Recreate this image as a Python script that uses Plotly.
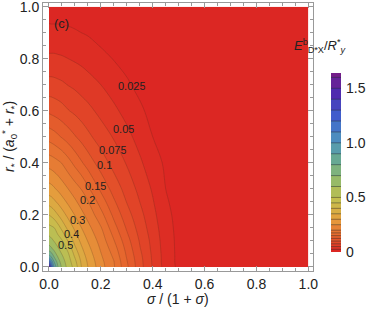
import numpy as np
import plotly.graph_objects as go

# Grid of E^b/R*_y (in thousandths) estimated from the reference contours.
X_NODES = [0, 0.01, 0.02, 0.035, 0.05, 0.075, 0.1, 0.125, 0.15, 0.2, 0.25, 0.3, 0.35,
           0.4, 0.45, 0.5, 0.55, 0.6, 0.7, 1.0]
Y_NODES = [0, 0.02, 0.04, 0.07, 0.1, 0.15, 0.2, 0.25, 0.3, 0.4, 0.5, 0.6, 0.7, 0.8,
           0.85, 0.9, 0.95, 1.0]
E_MILLI = [
    [1600, 1250, 1000, 800, 680, 559, 481, 400, 350, 270, 206, 155, 110, 73, 40, 20, 9, 0, 0, 0],
    [1250, 1050, 900, 750, 650, 544, 466, 392, 343, 265, 202, 152, 109, 72, 39, 19, 9, 0, 0, 0],
    [950, 880, 790, 690, 615, 523, 445, 380, 333, 257, 196, 148, 107, 71, 39, 19, 9, 0, 0, 0],
    [750, 715, 670, 612, 560, 487, 412, 359, 316, 244, 187, 142, 102, 69, 38, 19, 9, 0, 0, 0],
    [645, 622, 595, 552, 514, 444, 383, 338, 298, 230, 177, 135, 98, 67, 37, 19, 9, 0, 0, 0],
    [533, 520, 504, 471, 437, 384, 340, 301, 266, 205, 160, 122, 90, 62, 35, 18, 8, 0, 0, 0],
    [450, 439, 425, 400, 374, 334, 298, 265, 234, 184, 144, 110, 83, 57, 32, 17, 7, 0, 0, 0],
    [380, 372, 360, 341, 321, 289, 259, 231, 204, 164, 129, 99, 75, 52, 28, 16, 6, 0, 0, 0],
    [321, 315, 306, 291, 275, 249, 224, 199, 180, 145, 115, 90, 68, 47, 25, 15, 5, 0, 0, 0],
    [230, 226, 220, 210, 199, 184, 168, 153, 139, 113, 91, 73, 54, 36, 21, 11, 2, 0, 0, 0],
    [166, 163, 160, 154, 148, 138, 127, 117, 106, 88, 73, 57, 41, 25, 16, 7, 0, 0, 0, 0],
    [120, 118, 116, 113, 109, 101, 95, 88, 82, 68, 55, 42, 29, 18, 10, 2, 0, 0, 0, 0],
    [84, 84, 83, 81, 79, 74, 70, 65, 60, 50, 39, 28, 19, 11, 4, 0, 0, 0, 0, 0],
    [55, 55, 55, 54, 53, 50, 47, 44, 40, 32, 24, 18, 11, 4, 0, 0, 0, 0, 0, 0],
    [43, 43, 43, 42, 41, 39, 37, 34, 31, 24, 19, 13, 7, 1, 0, 0, 0, 0, 0, 0],
    [32, 31, 31, 31, 30, 29, 27, 25, 23, 19, 14, 8, 3, 0, 0, 0, 0, 0, 0, 0],
    [22, 22, 22, 22, 22, 21, 20, 19, 17, 13, 9, 4, 0, 0, 0, 0, 0, 0, 0, 0],
    [16, 16, 16, 16, 16, 15, 14, 13, 12, 8, 4, 0, 0, 0, 0, 0, 0, 0, 0, 0],
]

LEVELS = [0.025, 0.05, 0.075, 0.1, 0.125, 0.15, 0.175, 0.2, 0.25, 0.3, 0.35, 0.4, 0.45,
          0.5, 0.6, 0.7, 0.8, 0.9, 1.0, 1.1, 1.2, 1.3, 1.4, 1.5, 1.6]
E_MAX = 1.64
LABELS = ["0.025", "0.05", "0.075", "0.1", "0.15", "0.2", "0.3", "0.4", "0.5"]
LABEL_X = [0.32, 0.287, 0.248, 0.216, 0.178, 0.148, 0.111, 0.085, 0.064]
LABEL_Y = [0.696, 0.53, 0.45, 0.392, 0.313, 0.258, 0.181, 0.128, 0.086]
CB_TICKS = [0, 0.5, 1.0, 1.5]
CB_TICKTEXT = ["0", "0.5", "1.0", "1.5"]
AX_TICKS = [0, 0.2, 0.4, 0.6, 0.8, 1.0]
AX_TICKTEXT = ["0.0", "0.2", "0.4", "0.6", "0.8", "1.0"]

RB = [(0.00, (120, 28, 134)), (0.12, (78, 44, 176)), (0.25, (62, 98, 207)),
      (0.38, (78, 148, 188)), (0.50, (108, 172, 140)), (0.62, (158, 188, 98)),
      (0.72, (200, 190, 76)), (0.82, (230, 158, 60)), (0.91, (230, 102, 46)),
      (1.00, (219, 33, 34))]

def rainbow(e):
    pos = 1 - e / E_MAX
    ps = [s[0] for s in RB]
    rgb = [np.interp(pos, ps, [s[1][i] for s in RB]) for i in range(3)]
    return "rgb(%d,%d,%d)" % tuple(int(round(v)) for v in rgb)

E = np.array(E_MILLI, dtype=float) / 1000.0
N = len(LEVELS)
edges = [0.0] + LEVELS
mids = [0.5 * (edges[k] + edges[k + 1]) for k in range(N)]
band_cols = [rainbow(m) for m in mids]
cs_t = [[0, band_cols[0]]] + [[(k + 0.5) / N, band_cols[k]] for k in range(N)] + [[1, band_cols[-1]]]
T = np.interp(E, edges, np.arange(N + 1))

cb_edges = edges + [E_MAX]
cb_mids = mids + [0.5 * (LEVELS[-1] + E_MAX)]
rainbow_cs = [[1 - p, "rgb(%d,%d,%d)" % c] for p, c in reversed(RB)]

# paper geometry
ML, MR, MT, MB = 43, 5, 3, 41
PW, PH = 374 - ML - MR, 312 - MT - MB
def px_x(px):
    return (px - ML) / PW
def px_y(py):
    return (312 - MB - py) / PH

FONT = "Liberation Sans"
INK = "#222"
fig = go.Figure()
fig.add_trace(go.Contour(
    x=X_NODES, y=Y_NODES, z=T,
    contours=dict(start=1, end=N, size=1, coloring="fill", showlines=True),
    line=dict(color="rgba(70,40,30,0.35)", width=0.6, smoothing=1.0),
    colorscale=cs_t, showscale=False, hoverinfo="skip"))

# colour bar drawn as a banded heatmap with level lines
fig.add_trace(go.Heatmap(
    x=[0, 1], y=cb_edges, z=[[m] for m in cb_mids], colorscale=rainbow_cs,
    zmin=0, zmax=E_MAX, showscale=False, hoverinfo="skip", xaxis="x2", yaxis="y2"))
lx, ly = [], []
for L in LEVELS:
    lx += [0, 1, None]
    ly += [L, L, None]
fig.add_trace(go.Scatter(x=lx, y=ly, mode="lines", xaxis="x2", yaxis="y2",
                         line=dict(color="rgba(40,40,40,0.45)", width=1),
                         hoverinfo="skip", showlegend=False))

axis_common = dict(showline=True, linecolor="#999", linewidth=1, mirror="ticks",
                   ticks="inside", ticklen=5, tickcolor="#999", tickwidth=1,
                   tickvals=AX_TICKS, ticktext=AX_TICKTEXT, ticklabeloverflow="allow",
                   minor=dict(ticks="inside", ticklen=3, tick0=0, dtick=0.05, tickcolor="#999"),
                   showgrid=False, zeroline=False,
                   tickfont=dict(family=FONT, size=14, color=INK))

ann = []
for t, x, y in zip(LABELS, LABEL_X, LABEL_Y):
    ann.append(dict(x=x, y=y, xref="x", yref="y", text=t, showarrow=False, height=10,
                    font=dict(family=FONT, size=11, color=INK)))
ann.append(dict(x=0.05, y=0.935, xref="x", yref="y", text="(c)", showarrow=False,
                font=dict(family=FONT, size=13, color=INK)))
ann.append(dict(x=px_x(178), y=px_y(299), xref="paper", yref="paper", yanchor="middle",
                text="<i>σ</i> / (1 + <i>σ</i>)", showarrow=False,
                font=dict(family=FONT, size=14, color=INK)))
ann.append(dict(x=px_x(9), y=px_y(137), xref="paper", yref="paper", textangle=-90,
                xanchor="center", yanchor="middle",
                text="<i>r</i><sub>*</sub> / (<i>a</i><sub>0</sub><sup>*</sup> + <i>r</i><sub>*</sub>)",
                showarrow=False, font=dict(family=FONT, size=14, color=INK)))
ann.append(dict(x=px_x(347), y=px_y(46), xref="paper", yref="paper", yanchor="middle",
                text="<i>E</i><sup>b</sup><sub>D*X</sub>/<i>R</i><sup>*</sup><sub><i>y</i></sub>",
                showarrow=False, font=dict(family=FONT, size=13, color=INK)))

fig.update_layout(
    width=374, height=312, margin=dict(l=ML, r=MR, t=MT, b=MB, autoexpand=False),
    paper_bgcolor="white", plot_bgcolor="white", annotations=ann, showlegend=False,
    xaxis=dict(domain=[0, px_x(313)], range=[-0.023, 1.018], **axis_common),
    yaxis=dict(domain=[0, 1], range=[-0.0154, 1.0142], **axis_common),
    xaxis2=dict(domain=[px_x(331), px_x(341)], range=[0, 1], anchor="y2", visible=False),
    yaxis2=dict(domain=[px_y(252), px_y(73)], range=[0, E_MAX], anchor="x2", side="right",
                tickvals=CB_TICKS, ticktext=CB_TICKTEXT, ticks="", showline=False,
                showgrid=False, zeroline=False, ticklabelstandoff=4,
                tickfont=dict(family=FONT, size=14, color=INK)))
fig.write_html("out.html", config={"displayModeBar": False},
               post_script="document.body.style.margin='0';")
